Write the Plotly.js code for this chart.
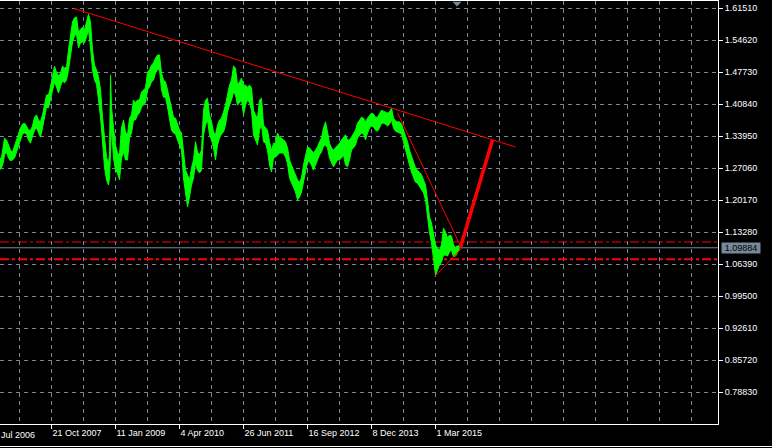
<!DOCTYPE html>
<html>
<head>
<meta charset="utf-8">
<script src="https://cdn.plot.ly/plotly-3.0.1.min.js"></script>
<style>
  html, body { margin: 0; padding: 0; background: #000; }
  #chart { width: 772px; height: 448px; }
</style>
</head>
<body>
<div id="chart"></div>
<script>
// ---------------- DATA ----------------
// Weekly EUR/USD-like series: week offsets from 2006-10-22, weekly high / low envelope
const baseDate = '2006-10-22';
const wk = [0,2,4,5,7,9,11,13,15,17,19,21,23,25,27,29,31,33,35,37,39,41,43,45,47,49,51,53,55,57,59,61,63,65,67,69,71,73,75,77,79,81,83,85,87,89,91,93,95,97,99,101,103,105,107,109,110,111,112,114,116,118,120,122,124,126,128,130,132,134,136,138,140,142,144,146,148,150,152,154,156,158,160,162,164,166,168,170,172,174,176,178,180,182,184,186,188,190,192,194,196,198,200,202,204,206,208,210,212,214,216,218,220,222,224,226,228,230,232,234,236,238,240,242,244,246,248,250,252,254,256,258,260,262,264,266,268,270,272,274,276,278,280,282,284,286,288,290,292,294,296,298,300,302,304,306,308,310,312,314,316,318,320,322,324,326,328,330,332,334,336,338,340,342,344,346,348,350,352,354,356,358,360,362,364,366,368,370,372,374,376,378,380,382,384,386,388,390,392,394,396,398,400,402,404,406,408,410,412,414,416,418,420,422,424,426,428,430,432,434,436,438,440,442,444,446,448,450,452,454,456,458,460];
const hi = [1.288,1.294,1.320,1.335,1.331,1.320,1.309,1.305,1.318,1.331,1.346,1.357,1.365,1.367,1.361,1.352,1.352,1.361,1.380,1.385,1.374,1.370,1.385,1.411,1.428,1.428,1.445,1.469,1.490,1.477,1.469,1.475,1.490,1.486,1.488,1.525,1.553,1.585,1.594,1.596,1.563,1.568,1.574,1.568,1.589,1.602,1.585,1.525,1.492,1.482,1.467,1.439,1.380,1.331,1.294,1.281,1.299,1.471,1.402,1.357,1.320,1.303,1.299,1.357,1.374,1.348,1.342,1.378,1.385,1.417,1.411,1.417,1.417,1.434,1.439,1.443,1.477,1.482,1.492,1.497,1.507,1.514,1.514,1.475,1.460,1.456,1.439,1.417,1.395,1.380,1.378,1.367,1.352,1.346,1.309,1.266,1.256,1.245,1.271,1.288,1.327,1.305,1.299,1.309,1.395,1.417,1.421,1.385,1.370,1.348,1.342,1.363,1.374,1.378,1.391,1.406,1.428,1.449,1.460,1.490,1.486,1.449,1.456,1.464,1.449,1.449,1.445,1.449,1.443,1.395,1.385,1.378,1.417,1.421,1.363,1.357,1.352,1.327,1.309,1.324,1.324,1.346,1.337,1.335,1.331,1.327,1.314,1.288,1.277,1.266,1.256,1.245,1.240,1.249,1.277,1.299,1.316,1.314,1.309,1.303,1.309,1.316,1.327,1.335,1.357,1.370,1.348,1.324,1.314,1.309,1.314,1.318,1.324,1.331,1.337,1.342,1.331,1.331,1.337,1.344,1.352,1.367,1.374,1.380,1.378,1.370,1.378,1.385,1.389,1.387,1.380,1.380,1.387,1.395,1.393,1.391,1.389,1.391,1.400,1.378,1.372,1.370,1.370,1.365,1.352,1.342,1.327,1.309,1.296,1.284,1.271,1.266,1.260,1.256,1.245,1.234,1.202,1.165,1.152,1.126,1.105,1.098,1.094,1.105,1.141,1.133,1.120,1.126,1.124,1.105,1.100,1.103,1.103];
const lo = [1.266,1.271,1.284,1.299,1.305,1.292,1.286,1.288,1.292,1.305,1.318,1.335,1.344,1.346,1.344,1.331,1.324,1.339,1.352,1.357,1.346,1.337,1.357,1.380,1.402,1.400,1.417,1.439,1.456,1.445,1.432,1.447,1.458,1.454,1.460,1.482,1.518,1.542,1.555,1.559,1.529,1.540,1.542,1.540,1.553,1.568,1.531,1.482,1.460,1.451,1.417,1.380,1.327,1.273,1.245,1.234,1.249,1.299,1.357,1.292,1.266,1.260,1.245,1.292,1.305,1.288,1.288,1.335,1.346,1.374,1.374,1.385,1.389,1.402,1.406,1.411,1.439,1.445,1.456,1.460,1.475,1.482,1.482,1.439,1.423,1.423,1.402,1.374,1.352,1.346,1.344,1.331,1.320,1.309,1.249,1.212,1.187,1.208,1.234,1.249,1.281,1.266,1.260,1.266,1.342,1.363,1.374,1.342,1.331,1.314,1.288,1.320,1.335,1.344,1.348,1.363,1.391,1.406,1.417,1.434,1.428,1.406,1.413,1.417,1.385,1.406,1.417,1.411,1.395,1.342,1.331,1.320,1.352,1.363,1.327,1.324,1.309,1.277,1.262,1.292,1.294,1.299,1.303,1.303,1.303,1.294,1.281,1.249,1.240,1.228,1.219,1.202,1.208,1.219,1.238,1.262,1.284,1.284,1.277,1.266,1.277,1.288,1.299,1.305,1.318,1.320,1.314,1.292,1.284,1.273,1.281,1.288,1.288,1.292,1.299,1.277,1.273,1.288,1.309,1.314,1.320,1.335,1.342,1.346,1.344,1.331,1.346,1.357,1.361,1.359,1.352,1.350,1.357,1.367,1.367,1.365,1.361,1.365,1.374,1.357,1.350,1.348,1.346,1.344,1.327,1.309,1.292,1.277,1.262,1.249,1.240,1.238,1.230,1.223,1.217,1.202,1.159,1.131,1.109,1.072,1.040,1.051,1.062,1.068,1.083,1.083,1.081,1.090,1.094,1.079,1.081,1.088,1.095];
const lastPrice = 1.09884;

// Horizontal levels (red dash-dot)
const levelUpper = 1.1113;
const levelLower = 1.0742;

// Trend lines: [weekOffset, price] pairs
const trend1Wk = [74, 516];   const trend1Px = [1.6144, 1.3158];
const trend2Wk = [398, 462];  const trend2Px = [1.3896, 1.0977];
const trend3Wk = [435, 462];  const trend3Px = [1.0365, 1.0977];
const thrustWk = [461, 493];  const thrustPx = [1.1005, 1.3309];

// Axis ticks
const yTicks = [1.6151, 1.5462, 1.4773, 1.4084, 1.3395, 1.2706, 1.2017, 1.1328, 1.0639, 0.9950, 0.9261, 0.8572, 0.7883];
const xTickDates = ['2007-10-21', '2009-01-11', '2010-04-04', '2011-06-26', '2012-09-16', '2013-12-08', '2015-03-01'];
const xTickLabels = ['21 Oct 2007', '11 Jan 2009', '4 Apr 2010', '26 Jun 2011', '16 Sep 2012', '8 Dec 2013', '1 Mar 2015'];
const firstLabelText = 'Jul 2006';   // visible part of the label at the left edge

// ---------------- HELPERS ----------------
const DAY = 86400000, WEEK = 7 * DAY;
const toMs = s => Date.parse(s + 'T00:00:00Z');
const toStr = ms => new Date(ms).toISOString().slice(0, 19).replace('T', ' ');
const base = toMs(baseDate);
const wkDate = w => toStr(base + w * WEEK);

// View: one pixel per weekly bar, 718 px plot width
const plotW = 718;
const viewStart = toMs(xTickDates[0]) - 51.5 * WEEK;
const viewEnd = viewStart + plotW * WEEK;
const yRange = [0.7194, 1.6302];

// Grid every 32 weeks
const gridDates = [];
for (let t = toMs(xTickDates[0]) - 32 * WEEK; t <= viewEnd; t += 32 * WEEK) gridDates.push(toStr(t));

const dates = wk.map(wkDate);
const GRID = '#778899';
const FONT = 'Liberation Sans, Arial, sans-serif';

const full = [toStr(viewStart), toStr(viewEnd)];
const traces = [
  { x: full, y: [levelUpper, levelUpper], mode: 'lines', line: { color: '#ff0000', width: 1, dash: '9px,3px,3px,3px' }, hoverinfo: 'skip' },
  { x: full, y: [levelLower, levelLower], mode: 'lines', line: { color: '#ff0000', width: 2, dash: '9px,3px,3px,3px' }, hoverinfo: 'skip' },
  { x: full, y: [lastPrice, lastPrice], mode: 'lines', line: { color: GRID, width: 1 }, hoverinfo: 'skip' },
  { x: dates, y: lo, mode: 'lines', line: { color: '#00ff00', width: 1 }, hoverinfo: 'skip' },
  { x: dates, y: hi, mode: 'lines', fill: 'tonexty', fillcolor: '#00ff00', line: { color: '#00ff00', width: 1 }, hoverinfo: 'skip' },
  { x: trend1Wk.map(wkDate), y: trend1Px, mode: 'lines', line: { color: '#ff0000', width: 1 } },
  { x: trend2Wk.map(wkDate), y: trend2Px, mode: 'lines', line: { color: '#ff0000', width: 1 } },
  { x: trend3Wk.map(wkDate), y: trend3Px, mode: 'lines', line: { color: '#ff0000', width: 1 } },
  { x: thrustWk.map(wkDate), y: thrustPx, mode: 'lines', line: { color: '#ff0000', width: 3.5 } }
];

const shiftMarkX = (base + 461 * WEEK - 3.5 * WEEK - viewStart) / (viewEnd - viewStart);
const ph = 423;

const layout = {
  width: 772, height: 448,
  margin: { l: 0, r: 54, t: 1, b: 24, pad: 0 },
  paper_bgcolor: '#000000', plot_bgcolor: '#000000',
  showlegend: false,
  font: { family: FONT, size: 9, color: '#ffffff' },
  xaxis: {
    type: 'date', range: full, autorange: false, fixedrange: true,
    tickmode: 'array', tickvals: xTickDates, ticktext: xTickLabels,
    ticks: 'outside', ticklen: 4, tickwidth: 1, tickcolor: '#ffffff',
    ticklabelposition: 'outside right',
    tickfont: { family: FONT, size: 9, color: '#ffffff' },
    showgrid: true, gridcolor: GRID, gridwidth: 1, griddash: '4px,4px',
    minor: { tickmode: 'array', tickvals: gridDates, showgrid: true, gridcolor: GRID, gridwidth: 1, griddash: '4px,4px', ticks: '' },
    showline: true, mirror: true, linecolor: '#ffffff', linewidth: 1,
    zeroline: false, automargin: false
  },
  yaxis: {
    side: 'right', range: yRange, autorange: false, fixedrange: true,
    tickmode: 'array', tickvals: yTicks, tickformat: '.5f',
    ticks: 'outside', ticklen: 4, tickwidth: 1, tickcolor: '#ffffff',
    tickfont: { family: FONT, size: 9, color: '#ffffff' },
    showgrid: true, gridcolor: GRID, gridwidth: 1, griddash: '4px,4px',
    showline: true, linecolor: '#ffffff', linewidth: 1,
    zeroline: false, automargin: false
  },
  annotations: [
    { xref: 'paper', yref: 'y', x: 1, y: lastPrice, xanchor: 'left', yanchor: 'middle', xshift: 3,
      text: lastPrice.toFixed(5), showarrow: false, bgcolor: GRID, width: 38, height: 10, borderpad: 0,
      font: { family: FONT, size: 9, color: '#000000' } },
    { xref: 'paper', yref: 'paper', x: 0, y: 0, xanchor: 'left', yanchor: 'top', yshift: -4, xshift: -1,
      text: firstLabelText, showarrow: false, font: { family: FONT, size: 9, color: '#ffffff' } }
  ],
  shapes: [
    { type: 'path', xref: 'paper', yref: 'paper',
      path: `M ${shiftMarkX - 4.5/plotW} ${1 - 0.7/ph} L ${shiftMarkX + 4.5/plotW} ${1 - 0.7/ph} L ${shiftMarkX} ${1 - 5.5/ph} Z`,
      fillcolor: GRID, line: { width: 0 } },
    { type: 'line', xref: 'paper', yref: 'paper', x0: -0.01, x1: 772/plotW, y0: -22.5/ph, y1: -22.5/ph,
      line: { color: '#ffffff', width: 1 } }
  ]
};

Plotly.newPlot('chart', traces, layout, { staticPlot: true, displayModeBar: false });
</script>
</body>
</html>
